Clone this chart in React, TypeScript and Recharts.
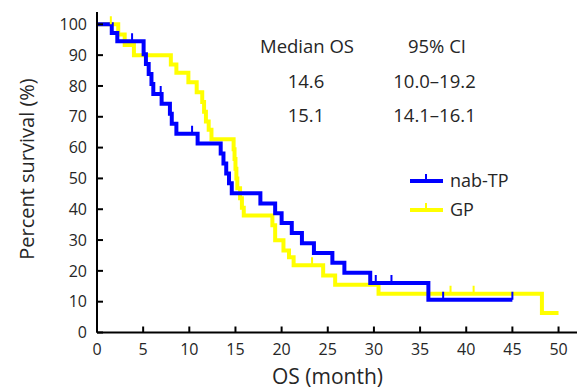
import React from "react";
import { LineChart, Line, XAxis, YAxis } from "recharts";

// nab-TP (blue): event times and survival after each step
const nabTimes = [0, 1.6, 2.2, 5.05, 5.3, 5.6, 5.9, 6.1, 7.0, 7.9, 8.1, 8.6, 10.9, 13.4, 13.7, 14.0, 14.3, 14.6, 17.7, 19.3, 20.0, 21.1, 22.2, 23.5, 25.5, 26.8, 29.6, 35.9];
const nabSurv = [100, 97.2, 94.5, 90.3, 87.1, 83.9, 80.6, 77.4, 74.2, 71.0, 67.7, 64.5, 61.3, 58.1, 54.8, 51.6, 48.4, 45.2, 41.9, 38.7, 35.5, 32.3, 29.0, 25.8, 22.6, 19.4, 16.1, 10.6];
const nabCensored = [3.8, 6.9, 10.3, 30.2, 31.9, 37.5, 45];
const nabEnd = 45;

// GP (yellow)
const gpTimes = [0, 2.3, 3.0, 4.0, 8.0, 8.6, 9.9, 10.8, 11.4, 11.6, 11.8, 12.1, 12.4, 14.8, 14.9, 15.0, 15.1, 15.2, 15.5, 15.7, 15.9, 19.0, 19.3, 20.2, 20.8, 21.3, 24.5, 25.8, 30.5, 48.2];
const gpSurv = [100, 96.7, 93.3, 90.0, 87.0, 84.3, 81.2, 78.0, 74.8, 71.6, 68.5, 65.8, 62.7, 59.5, 56.3, 53.1, 50.0, 46.8, 43.6, 40.5, 38.0, 34.8, 29.9, 26.6, 24.4, 21.8, 18.5, 15.5, 12.6, 6.3];
const gpCensored = [1.5, 23.3, 38.3, 40.8];
const gpEnd = 50;

const xTicks = [0, 5, 10, 15, 20, 25, 30, 35, 40, 45, 50];
const yTicks = [0, 10, 20, 30, 40, 50, 60, 70, 80, 90, 100];

const seriesNames = ["nab-TP", "GP"];
const medianHeader = ["Median OS", "95% CI"];
const medianRows = [
  ["14.6", "10.0\u201319.2"],
  ["15.1", "14.1\u201316.1"],
];

const BLUE = "#0000ff";
const YELLOW = "#ffff00";
const TEXT = "#262626";
const FONT = "'Open Sans', sans-serif";

function buildSeries(times: number[], surv: number[], censored: number[], end: number) {
  const survAt = (t: number) => {
    let s = surv[0];
    for (let i = 0; i < times.length; i++) if (times[i] <= t) s = surv[i];
    return s;
  };
  const pts: { t: number; s: number; c: boolean }[] = times.map((t, i) => ({ t, s: surv[i], c: false }));
  censored.forEach((t) => pts.push({ t, s: survAt(t), c: true }));
  if (!censored.includes(end)) pts.push({ t: end, s: survAt(end), c: false });
  pts.sort((a, b) => a.t - b.t || (a.c ? 1 : -1));
  return pts;
}

const nabData = buildSeries(nabTimes, nabSurv, nabCensored, nabEnd);
const gpData = buildSeries(gpTimes, gpSurv, gpCensored, gpEnd);

const makeDot = (color: string) => (props: any) => {
  const { cx, cy, payload, index } = props;
  if (!payload || !payload.c || cx == null || cy == null) return <g key={`d-${index}`} />;
  return <line key={`d-${index}`} x1={cx} x2={cx} y1={cy - 8} y2={cy} stroke={color} strokeWidth={2} />;
};

export default function App() {
  return (
    <div style={{ position: "absolute", left: 0, top: 0, width: 578, height: 389, background: "#fff" }}>
      <LineChart width={578} height={389} margin={{ top: 12, right: 1, left: 0, bottom: 26.5 }}>
        <XAxis
          type="number"
          dataKey="t"
          domain={[0, 52]}
          ticks={xTicks}
          allowDataOverflow
          height={30}
          axisLine={{ stroke: "#000", strokeWidth: 2 }}
          tickLine={{ stroke: "#000", strokeWidth: 2 }}
          tickSize={-6}
          tickMargin={17}
          tick={{ fill: TEXT, fontSize: 16, fontFamily: FONT }}
        />
        <YAxis
          type="number"
          domain={[0, 104]}
          ticks={yTicks}
          allowDataOverflow
          width={97}
          axisLine={{ stroke: "#000", strokeWidth: 2 }}
          tickLine={{ stroke: "#000", strokeWidth: 2 }}
          tickSize={-6}
          tickMargin={16}
          tick={{ fill: TEXT, fontSize: 16, fontFamily: FONT }}
        />
        <Line
          data={gpData}
          dataKey="s"
          type="stepAfter"
          stroke={YELLOW}
          strokeWidth={4}
          dot={makeDot(YELLOW)}
          activeDot={false}
          isAnimationActive={false}
          name={seriesNames[1]}
        />
        <Line
          data={nabData}
          dataKey="s"
          type="stepAfter"
          stroke={BLUE}
          strokeWidth={4}
          dot={makeDot(BLUE)}
          activeDot={false}
          isAnimationActive={false}
          name={seriesNames[0]}
        />
      </LineChart>
      <svg
        width={578}
        height={389}
        style={{ position: "absolute", left: 0, top: 0, pointerEvents: "none" }}
        fontFamily={FONT}
        fill={TEXT}
      >
        <text transform="translate(34,169) rotate(-90)" textAnchor="middle" fontSize={20}>
          Percent survival (%)
        </text>
        <text x={327.5} y={384} textAnchor="middle" fontSize={21}>
          OS (month)
        </text>
        <text x={307} y={53} textAnchor="middle" fontSize={18.5}>{medianHeader[0]}</text>
        <text x={437} y={53} textAnchor="middle" fontSize={18.5}>{medianHeader[1]}</text>
        {medianRows.map((r, i) => (
          <g key={i}>
            <text x={306} y={88 + i * 33.5} textAnchor="middle" fontSize={18.5}>{r[0]}</text>
            <text x={434.5} y={88 + i * 33.5} textAnchor="middle" fontSize={18.5}>{r[1]}</text>
          </g>
        ))}
        <line x1={410} x2={443} y1={181} y2={181} stroke={BLUE} strokeWidth={4} />
        <line x1={426} x2={426} y1={174} y2={181} stroke={BLUE} strokeWidth={2} />
        <text x={450} y={187} fontSize={18}>{seriesNames[0]}</text>
        <line x1={410} x2={443} y1={210} y2={210} stroke={YELLOW} strokeWidth={4} />
        <line x1={426} x2={426} y1={203} y2={210} stroke={YELLOW} strokeWidth={2} />
        <text x={450} y={216} fontSize={18}>{seriesNames[1]}</text>
      </svg>
    </div>
  );
}
